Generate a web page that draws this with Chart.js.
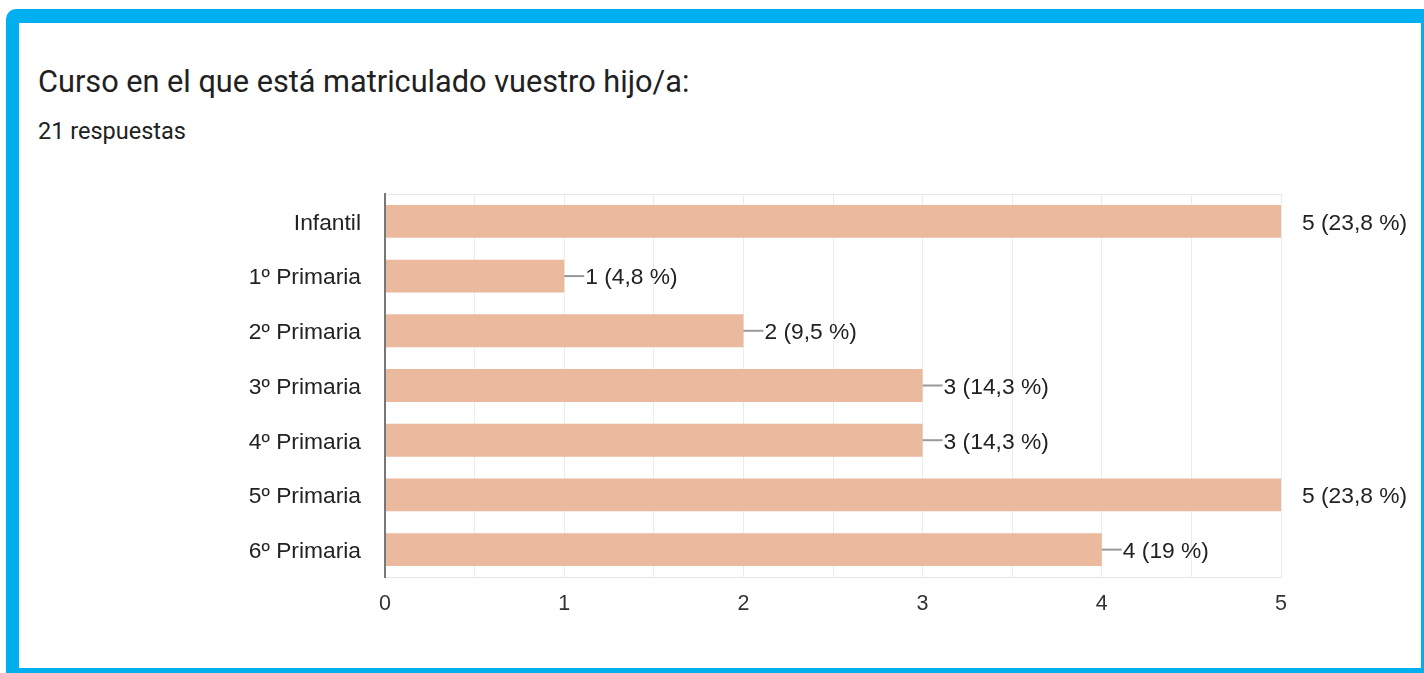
<!DOCTYPE html>
<html>
<head>
<meta charset="utf-8">
<script src="https://cdn.jsdelivr.net/npm/chart.js@4.4.1/dist/chart.umd.min.js"></script>
<style>
  html, body { margin:0; padding:0; background:#fff; width:1424px; height:673px; overflow:hidden; }
  .frame { position:absolute; left:6px; top:9px; width:1428px; height:664px; box-sizing:border-box;
           border:solid #00AFEF; border-width:14px 13px 5px 13px; border-radius:10px 10px 0 0; background:#fff; }
  .title { position:absolute; left:38px; top:67px; font-family:Roboto, Arial, sans-serif; font-size:30.7px; line-height:1; color:#212121; white-space:nowrap; }
  .sub { position:absolute; left:38px; top:120px; font-family:Roboto, Arial, sans-serif; font-size:23.5px; line-height:1; color:#212121; white-space:nowrap; }
  canvas { position:absolute; left:0; top:0; }
</style>
</head>
<body>
<div class="frame"></div>
<div class="title">Curso en el que está matriculado vuestro hijo/a:</div>
<div class="sub">21 respuestas</div>
<canvas id="c" width="1424" height="673"></canvas>
<script>
const categories = ['Infantil', '1º Primaria', '2º Primaria', '3º Primaria', '4º Primaria', '5º Primaria', '6º Primaria'];
const counts = [5, 1, 2, 3, 3, 5, 4];
const percentLabels = ['23,8', '4,8', '9,5', '14,3', '14,3', '23,8', '19'];
const xTickLabels = [0, 1, 2, 3, 4, 5];

const FONT = "'Liberation Sans', Arial, sans-serif";

const topLine = {
  id: 'topLine',
  beforeDatasetsDraw(chart) {
    const a = chart.chartArea, ctx = chart.ctx;
    ctx.save();
    ctx.strokeStyle = '#e6e6e6';
    ctx.lineWidth = 1;
    ctx.beginPath();
    ctx.moveTo(a.left, a.top + 0.5);
    ctx.lineTo(a.right + 1, a.top + 0.5);
    ctx.stroke();
    ctx.restore();
  }
};

const valueLabels = {
  id: 'valueLabels',
  afterDraw(chart) {
    const ctx = chart.ctx;
    const meta = chart.getDatasetMeta(0);
    const xs = chart.scales.x;
    ctx.save();
    ctx.font = '22.8px ' + FONT;
    ctx.fillStyle = '#222';
    ctx.textBaseline = 'middle';
    ctx.textAlign = 'left';
    meta.data.forEach((bar, i) => {
      const v = counts[i];
      const x = bar.x;
      const y = bar.y;
      if (v < xs.max) {
        ctx.strokeStyle = '#999';
        ctx.lineWidth = 2;
        ctx.beginPath();
        ctx.moveTo(x, y);
        ctx.lineTo(x + 20, y);
        ctx.stroke();
      }
      ctx.fillText(v + ' (' + percentLabels[i] + ' %)', x + 21, y + 2);
    });
    ctx.restore();
  }
};

new Chart(document.getElementById('c'), {
  type: 'bar',
  data: {
    labels: categories,
    datasets: [{
      data: counts,
      backgroundColor: '#EBB99D',
      borderWidth: 0,
      barPercentage: 0.6,
      categoryPercentage: 1.0
    }]
  },
  plugins: [topLine, valueLabels],
  options: {
    indexAxis: 'y',
    responsive: false,
    animation: false,
    events: [],
    layout: { padding: { left: 20, right: 143, top: 194, bottom: 0 } },
    plugins: { legend: { display: false }, tooltip: { enabled: false }, title: { display: false } },
    scales: {
      x: {
        min: 0, max: 5,
        afterFit(s) { s.height = 673 - 577; },
        ticks: {
          stepSize: 0.5,
          autoSkip: false,
          maxRotation: 0,
          padding: 14,
          color: '#333',
          font: { family: FONT, size: 21.5 },
          callback: (value) => xTickLabels.includes(value) ? String(value) : ''
        },
        grid: { color: '#ebebeb', lineWidth: 1, drawTicks: false },
        border: { display: true, color: '#e6e6e6', width: 1 }
      },
      y: {
        afterFit(s) { s.width = 385 - 20; },
        ticks: {
          padding: 24,
          labelOffset: 2,
          color: '#222',
          font: { family: FONT, size: 22.8 }
        },
        grid: { display: false, drawTicks: false },
        border: { display: true, color: '#777', width: 2, z: 1 }
      }
    }
  }
});
</script>
</body>
</html>
